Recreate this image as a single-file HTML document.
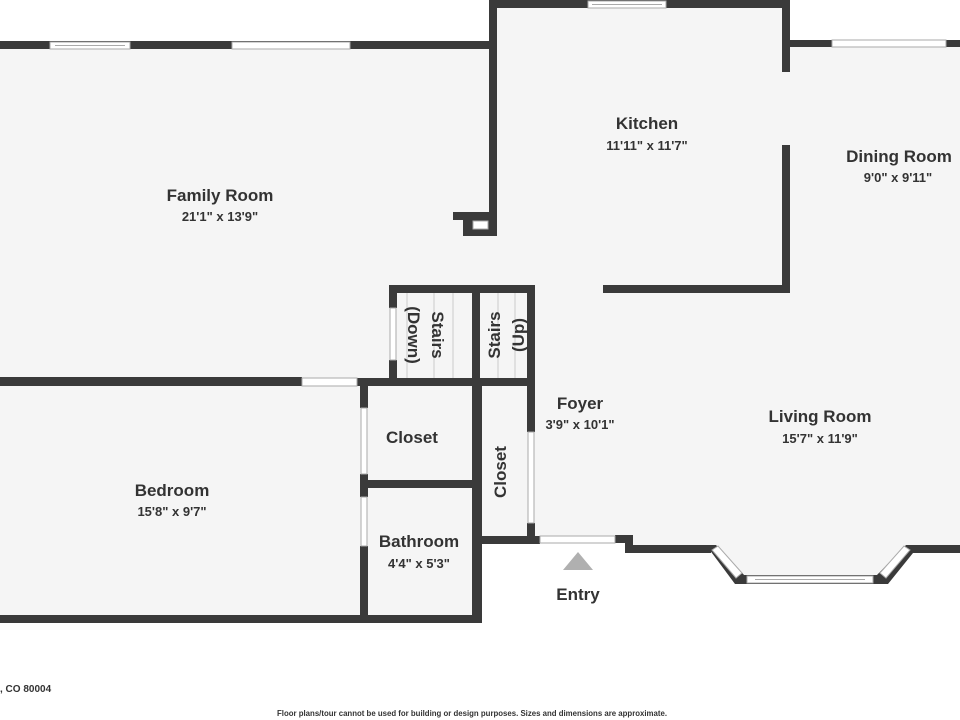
<!DOCTYPE html>
<html><head><meta charset="utf-8"><style>
html,body{margin:0;padding:0;background:#fff;}
svg{display:block;}
text{font-family:"Liberation Sans",sans-serif;fill:#333;font-weight:bold;text-anchor:middle;}
.t{font-size:17px;}
.d{font-size:13px;}
</style></head><body>
<svg width="960" height="720" viewBox="0 0 960 720" xmlns="http://www.w3.org/2000/svg">
<polygon fill="#f5f5f5" points="0,45 489,45 489,4 786,4 786,44 960,44 960,550 912,550 885,580 737,580 710,550 630,550 630,540 478,540 478,620 0,620"/>
<g fill="#3a3a3a">
<rect x="0" y="41" width="497" height="8"/>
<rect x="489" y="0" width="8" height="236"/>
<rect x="489" y="0" width="301" height="8"/>
<rect x="782" y="0" width="8" height="72"/>
<rect x="782" y="145" width="8" height="148"/>
<rect x="603" y="285" width="187" height="8"/>
<rect x="786" y="40" width="174" height="7"/>
<rect x="453" y="212" width="44" height="8"/>
<rect x="463" y="212" width="34" height="24"/>
<rect x="389" y="285" width="146" height="8"/>
<rect x="389" y="285" width="8" height="23"/>
<rect x="389" y="360" width="8" height="26"/>
<rect x="472" y="285" width="8" height="335"/>
<rect x="527" y="285" width="8" height="147"/>
<rect x="527" y="523" width="8" height="21"/>
<rect x="0" y="377" width="302" height="9"/>
<rect x="357" y="378" width="178" height="8"/>
<rect x="360" y="378" width="8" height="30"/>
<rect x="360" y="474" width="8" height="23"/>
<rect x="360" y="546" width="8" height="77"/>
<rect x="360" y="480" width="115" height="8"/>
<rect x="0" y="615" width="478" height="8"/>
<rect x="478" y="378" width="4" height="245"/>
<rect x="478" y="536" width="62" height="8"/>
<rect x="615" y="535" width="18" height="8"/>
<rect x="625" y="535" width="8" height="18"/>
<rect x="625" y="545" width="86" height="8"/>
<polygon points="706,545 716,545 745,576 745,584 735,584"/>
<rect x="735" y="575" width="150" height="9"/>
<polygon points="876,576 906,545 960,545 960,553 913,553 888,584 876,584"/>
</g>
<g fill="#fff" stroke="#aaa" stroke-width="1">
<rect x="50" y="42" width="80" height="7"/><line x1="55" y1="45.5" x2="125" y2="45.5"/>
<rect x="232" y="42" width="118" height="7"/>
<rect x="588" y="1" width="78" height="7"/><line x1="592" y1="4.5" x2="662" y2="4.5"/>
<rect x="832" y="40" width="114" height="7"/>
<rect x="390" y="308" width="6" height="52"/>
<rect x="528" y="432" width="6" height="91"/>
<rect x="361" y="408" width="6" height="66"/>
<rect x="361" y="497" width="6" height="49"/>
<rect x="302" y="378" width="55" height="8"/>
<rect x="540" y="536" width="75" height="7"/>
<rect x="747" y="576" width="126" height="7"/><line x1="755" y1="579.5" x2="865" y2="579.5"/>
<polygon points="712,550 718,546 742,573 736,578"/>
<polygon points="880,573 904,546 910,550 886,578"/>
<rect x="473" y="221" width="15" height="8"/>
</g>
<g stroke="#ccc" stroke-width="1">
<line x1="407" y1="293" x2="407" y2="378"/><line x1="434" y1="293" x2="434" y2="378"/><line x1="453" y1="293" x2="453" y2="378"/>
<line x1="498" y1="293" x2="498" y2="378"/><line x1="515" y1="293" x2="515" y2="378"/>
</g>
<polygon points="578,552 563,570 593,570" fill="#b0b0b0"/>
<text class="t" x="647" y="129">Kitchen</text><text class="d" x="647" y="150">11'11" x 11'7"</text>
<text class="t" x="220" y="201">Family Room</text><text class="d" x="220" y="221">21'1" x 13'9"</text>
<text class="t" x="899" y="162">Dining Room</text><text class="d" x="898" y="182">9'0" x 9'11"</text>
<text class="t" x="820" y="422">Living Room</text><text class="d" x="820" y="443">15'7" x 11'9"</text>
<text class="t" x="580" y="409">Foyer</text><text class="d" x="580" y="429">3'9" x 10'1"</text>
<text class="t" x="412" y="443">Closet</text>
<text class="t" x="172" y="496">Bedroom</text><text class="d" x="172" y="516">15'8" x 9'7"</text>
<text class="t" x="419" y="547">Bathroom</text><text class="d" x="419" y="568">4'4" x 5'3"</text>
<text class="t" x="578" y="600">Entry</text>
<text class="t" transform="translate(506,472) rotate(-90)">Closet</text>
<text class="t" transform="translate(432,335) rotate(90)">Stairs</text>
<text class="t" transform="translate(408,335) rotate(90)">(Down)</text>
<text class="t" transform="translate(500,335) rotate(-90)">Stairs</text>
<text class="t" transform="translate(524,335) rotate(-90)">(Up)</text>
<text x="0" y="692" style="font-size:10px;text-anchor:start">, CO 80004</text>
<text x="277" y="716" style="font-size:8px;text-anchor:start" textLength="390" lengthAdjust="spacingAndGlyphs">Floor plans/tour cannot be used for building or design purposes. Sizes and dimensions are approximate.</text>
</svg>
</body></html>
